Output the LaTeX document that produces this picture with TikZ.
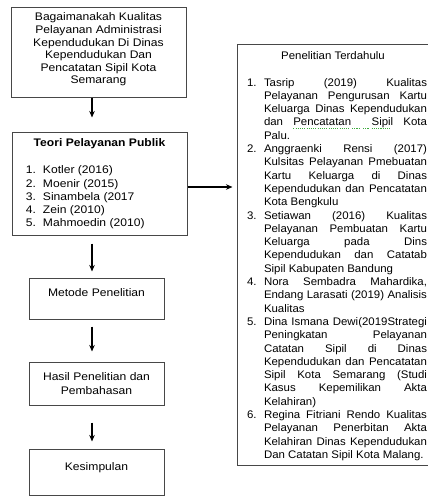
\documentclass[tikz,border=0pt]{standalone}
\usepackage{fontspec}
\setmainfont{Liberation Sans}[FakeStretch=1.1]
\newfontfamily\rfont{Liberation Sans}[FakeStretch=1.04]
\usetikzlibrary{arrows.meta}

\newcommand\boxc[4]{\parbox[c][#2][t]{#1}{\vspace*{#3}#4\par}}
\newcommand\J[1]{\makebox[163pt][s]{#1}}
\newcommand\N[1]{\hspace*{10pt}\makebox[17pt][l]{#1}}
\newcommand\I{\hspace*{27pt}}
\newcommand\LN[1]{\hspace*{14pt}\makebox[17pt][l]{#1}}
\definecolor{gline}{RGB}{60,170,60}
\newcommand\gdots{\hbox{\raisebox{-2.6pt}{\rule{1.1pt}{0.8pt}}\hspace{1.1pt}}}
\newcommand\gul[1]{\setbox0\hbox{#1}\rlap{\textcolor{gline}{\hbox to \wd0{\leaders\gdots\hfill}}}\box0\relax}
\newcommand\gsp{\textcolor{gline}{\leaders\gdots\hskip\fontdimen2\font plus \fontdimen3\font minus \fontdimen4\font\relax}}

\begin{document}
\begin{tikzpicture}[x=1pt,y=-1pt,
  box/.style={draw=black!72, line width=1pt, inner sep=0pt, font=\fontsize{11}{12.6}\selectfont},
  arr/.style={draw=black, line width=1.1pt, -{Stealth[length=6.5pt,width=5.5pt]}}]
\useasboundingbox (0,0) rectangle (428,496);
\fill[white] (0,0) rectangle (428,496);
\coordinate (ax) at (92,0);
\coordinate (ay) at (0,187);

\node[box] (q) at (98.5,52) {\boxc{175pt}{90pt}{6pt}{\centering Bagaimanakah Kualitas\\ Pelayanan Administrasi\\ Kependudukan Di Dinas\\ Kependudukan Dan\\ Pencatatan Sipil Kota\\ Semarang}};

\node[box, font=\fontsize{11}{13.2}\selectfont] (teori) at (99.5,183.5) {\boxc{175pt}{103pt}{7pt}{\centering\bfseries Teori Pelayanan Publik\par\vspace{13.8pt}\raggedright\mdseries
\LN{1.}Kotler (2016)\\
\LN{2.}Moenir (2015)\\
\LN{3.}Sinambela (2017\\
\LN{4.}Zein (2010)\\
\LN{5.}Mahmoedin (2010)}};

\node[box] (metode) at (96.5,298.5) {\boxc{135pt}{41pt}{11pt}{\centering Metode Penelitian}};
\node[box, font=\fontsize{11}{13.8}\selectfont] (hasil) at (96.5,383.5) {\boxc{135pt}{43pt}{11pt}{\centering Hasil Penelitian dan\\ Pembahasan}};
\node[box] (kes) at (96.5,472) {\boxc{135pt}{46pt}{14pt}{\centering Kesimpulan}};

\node[box, font=\rfont\fontsize{11}{13.3}\selectfont] (prev) at (333,254.5) {\boxc{192pt}{421pt}{7.5pt}{\centering Penelitian Terdahulu\par\vspace{13.3pt}\raggedright
\N{1.}\J{Tasrip (2019) Kualitas}\\
\I\J{Pelayanan Pengurusan Kartu}\\
\I\J{Keluarga Dinas Kependudukan}\\
\I\J{dan \gul{Pencatatan}\gsp\gsp\gul{Sipil} Kota}\\
\I Palu.\\
\N{2.}\J{Anggraenki Rensi (2017)}\\
\I\J{Kulsitas Pelayanan Pmebuatan}\\
\I\J{Kartu Keluarga di Dinas}\\
\I\J{Kependudukan dan Pencatatan}\\
\I Kota Bengkulu\\
\N{3.}\J{Setiawan (2016) Kualitas}\\
\I\J{Pelayanan Pembuatan Kartu}\\
\I\J{Keluarga pada Dins}\\
\I\J{Kependudukan dan Catatab}\\
\I Sipil Kabupaten Bandung\\
\N{4.}\J{Nora Sembadra Mahardika,}\\
\I\J{Endang Larasati (2019) Analisis}\\
\I Kualitas\\
\N{5.}\J{Dina Ismana Dewi(2019Strategi}\\
\I\J{Peningkatan Pelayanan}\\
\I\J{Catatan Sipil di Dinas}\\
\I\J{Kependudukan dan Pencatatan}\\
\I\J{Sipil Kota Semarang (Studi}\\
\I\J{Kasus Kepemilikan Akta}\\
\I Kelahiran)\\
\N{6.}\J{Regina Fitriani Rendo Kualitas}\\
\I\J{Pelayanan Penerbitan Akta}\\
\I\J{Kelahiran Dinas Kependudukan}\\
\I Dan Catatan Sipil Kota Malang.}};

\draw[arr, shorten >=14pt] (q.south -| ax) -- (teori.north -| ax);
\draw[arr, shorten <=8pt, shorten >=6pt] (teori.south -| ax) -- (metode.north -| ax);
\draw[arr, shorten <=7pt, shorten >=10pt] (metode.south -| ax) -- (hasil.north -| ax);
\draw[arr, shorten <=17pt, shorten >=7pt] (hasil.south -| ax) -- (kes.north -| ax);
\draw[arr, shorten >=4pt] (teori.east |- ay) -- (prev.west |- ay);
\end{tikzpicture}
\end{document}
